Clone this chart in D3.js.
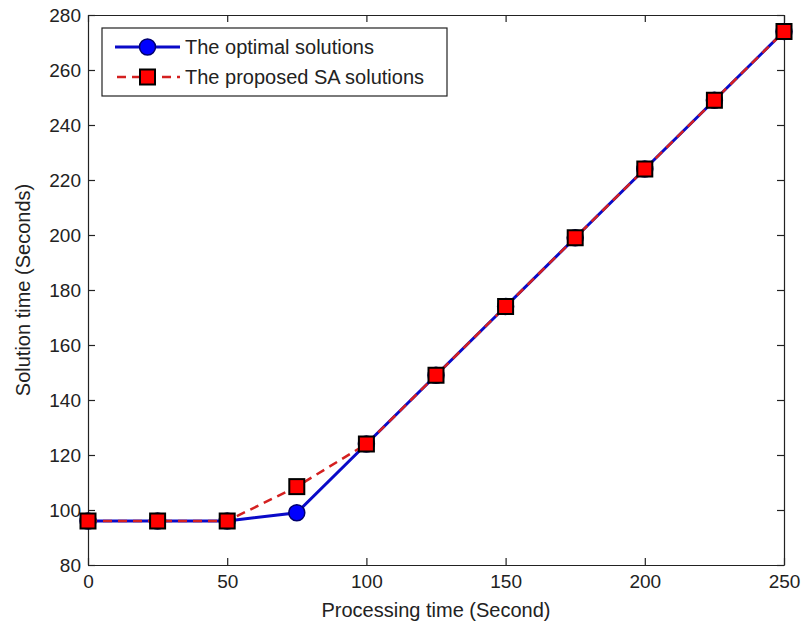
<!DOCTYPE html>
<html>
<head>
<meta charset="utf-8">
<script src="https://cdn.jsdelivr.net/npm/d3@7"></script>
<style>
  body { margin: 0; background: #fff; }
  svg text { font-family: "Liberation Sans", Arial, sans-serif; fill: #222; }
  .axis path, .axis line { stroke: #222; stroke-width: 1.2; }
</style>
</head>
<body>
<svg id="chart"></svg>
<script>
// data
var processing = [0, 25, 50, 75, 100, 125, 150, 175, 200, 225, 250];
var optimal    = [96, 96, 96, 99, 124, 149, 174, 199, 224, 249, 274];
var proposed   = [96, 96, 96, 108.5, 124, 149, 174, 199, 224, 249, 274];
var xTicks = [0, 50, 100, 150, 200, 250];
var yTicks = [80, 100, 120, 140, 160, 180, 200, 220, 240, 260, 280];
var seriesNames = ["The optimal solutions", "The proposed SA solutions"];

var width = 804, height = 627;
var margin = {left: 88, right: 20, top: 15, bottom: 62};

var svg = d3.select("#chart")
    .attr("width", width)
    .attr("height", height);

var x = d3.scaleLinear().domain([0, 250]).range([margin.left, width - margin.right]);
var y = d3.scaleLinear().domain([80, 280]).range([height - margin.bottom, margin.top]);

// axes, ticks pointing inward (box on)
svg.append("g").attr("class", "axis")
    .attr("transform", "translate(0," + y(80) + ")")
    .call(d3.axisBottom(x).tickValues(xTicks).tickSizeInner(-7).tickSizeOuter(0).tickPadding(10))
    .selectAll("text").style("font-size", "19px");

svg.append("g").attr("class", "axis")
    .attr("transform", "translate(0," + y(280) + ")")
    .call(d3.axisTop(x).tickValues(xTicks).tickSizeInner(-7).tickSizeOuter(0).tickFormat(""));

svg.append("g").attr("class", "axis")
    .attr("transform", "translate(" + x(0) + ",0)")
    .call(d3.axisLeft(y).tickValues(yTicks).tickSizeInner(-7).tickSizeOuter(0).tickPadding(7))
    .selectAll("text").style("font-size", "19px");

svg.append("g").attr("class", "axis")
    .attr("transform", "translate(" + x(250) + ",0)")
    .call(d3.axisRight(y).tickValues(yTicks).tickSizeInner(-7).tickSizeOuter(0).tickFormat(""));

svg.selectAll(".axis .domain").attr("stroke", "#222");

// axis labels
svg.append("text")
    .attr("x", (x(0) + x(250)) / 2)
    .attr("y", 617)
    .attr("text-anchor", "middle")
    .style("font-size", "20px")
    .text("Processing time (Second)");

svg.append("text")
    .attr("transform", "translate(30," + (y(80) + y(280)) / 2 + ")rotate(-90)")
    .attr("text-anchor", "middle")
    .style("font-size", "20px")
    .text("Solution time (Seconds)");

// series
var line = d3.line().x(d => x(d[0])).y(d => y(d[1]));
var optPts = processing.map((p, i) => [p, optimal[i]]);
var saPts = processing.map((p, i) => [p, proposed[i]]);

svg.append("path")
    .datum(optPts)
    .attr("d", line)
    .attr("fill", "none")
    .attr("stroke", "#0a0ac8")
    .attr("stroke-width", 3);

svg.append("g").selectAll("circle")
    .data(optPts)
    .enter().append("circle")
    .attr("cx", d => x(d[0]))
    .attr("cy", d => y(d[1]))
    .attr("r", 8)
    .attr("fill", "#0000ff")
    .attr("stroke", "#00006e")
    .attr("stroke-width", 1.5);

svg.append("path")
    .datum(saPts)
    .attr("d", line)
    .attr("fill", "none")
    .attr("stroke", "#d42020")
    .attr("stroke-width", 2.5)
    .attr("stroke-dasharray", "9,6");

svg.append("g").selectAll("rect")
    .data(saPts)
    .enter().append("rect")
    .attr("x", d => x(d[0]) - 7.5)
    .attr("y", d => y(d[1]) - 7.5)
    .attr("width", 15)
    .attr("height", 15)
    .attr("fill", "#ff0000")
    .attr("stroke", "#000")
    .attr("stroke-width", 2);

// legend
var lg = svg.append("g");
lg.append("rect")
    .attr("x", 102).attr("y", 28)
    .attr("width", 345).attr("height", 68)
    .attr("fill", "#fff")
    .attr("stroke", "#222")
    .attr("stroke-width", 1.2);

var rowY = [47, 77];
lg.append("line")
    .attr("x1", 115).attr("x2", 180)
    .attr("y1", rowY[0]).attr("y2", rowY[0])
    .attr("stroke", "#0a0ac8").attr("stroke-width", 3);
lg.append("circle")
    .attr("cx", 147.5).attr("cy", rowY[0]).attr("r", 8)
    .attr("fill", "#0000ff").attr("stroke", "#00006e").attr("stroke-width", 1.5);

lg.append("line")
    .attr("x1", 115).attr("x2", 180)
    .attr("y1", rowY[1]).attr("y2", rowY[1])
    .attr("stroke", "#d42020").attr("stroke-width", 2.5)
    .attr("stroke-dasharray", "9,6").attr("stroke-dashoffset", -2);
lg.append("rect")
    .attr("x", 140).attr("y", rowY[1] - 7.5)
    .attr("width", 15).attr("height", 15)
    .attr("fill", "#ff0000").attr("stroke", "#000").attr("stroke-width", 2);

lg.selectAll("text.leg")
    .data(seriesNames)
    .enter().append("text")
    .attr("class", "leg")
    .attr("x", 185)
    .attr("y", (d, i) => rowY[i] + 7)
    .style("font-size", "20px")
    .text(d => d);
</script>
</body>
</html>
